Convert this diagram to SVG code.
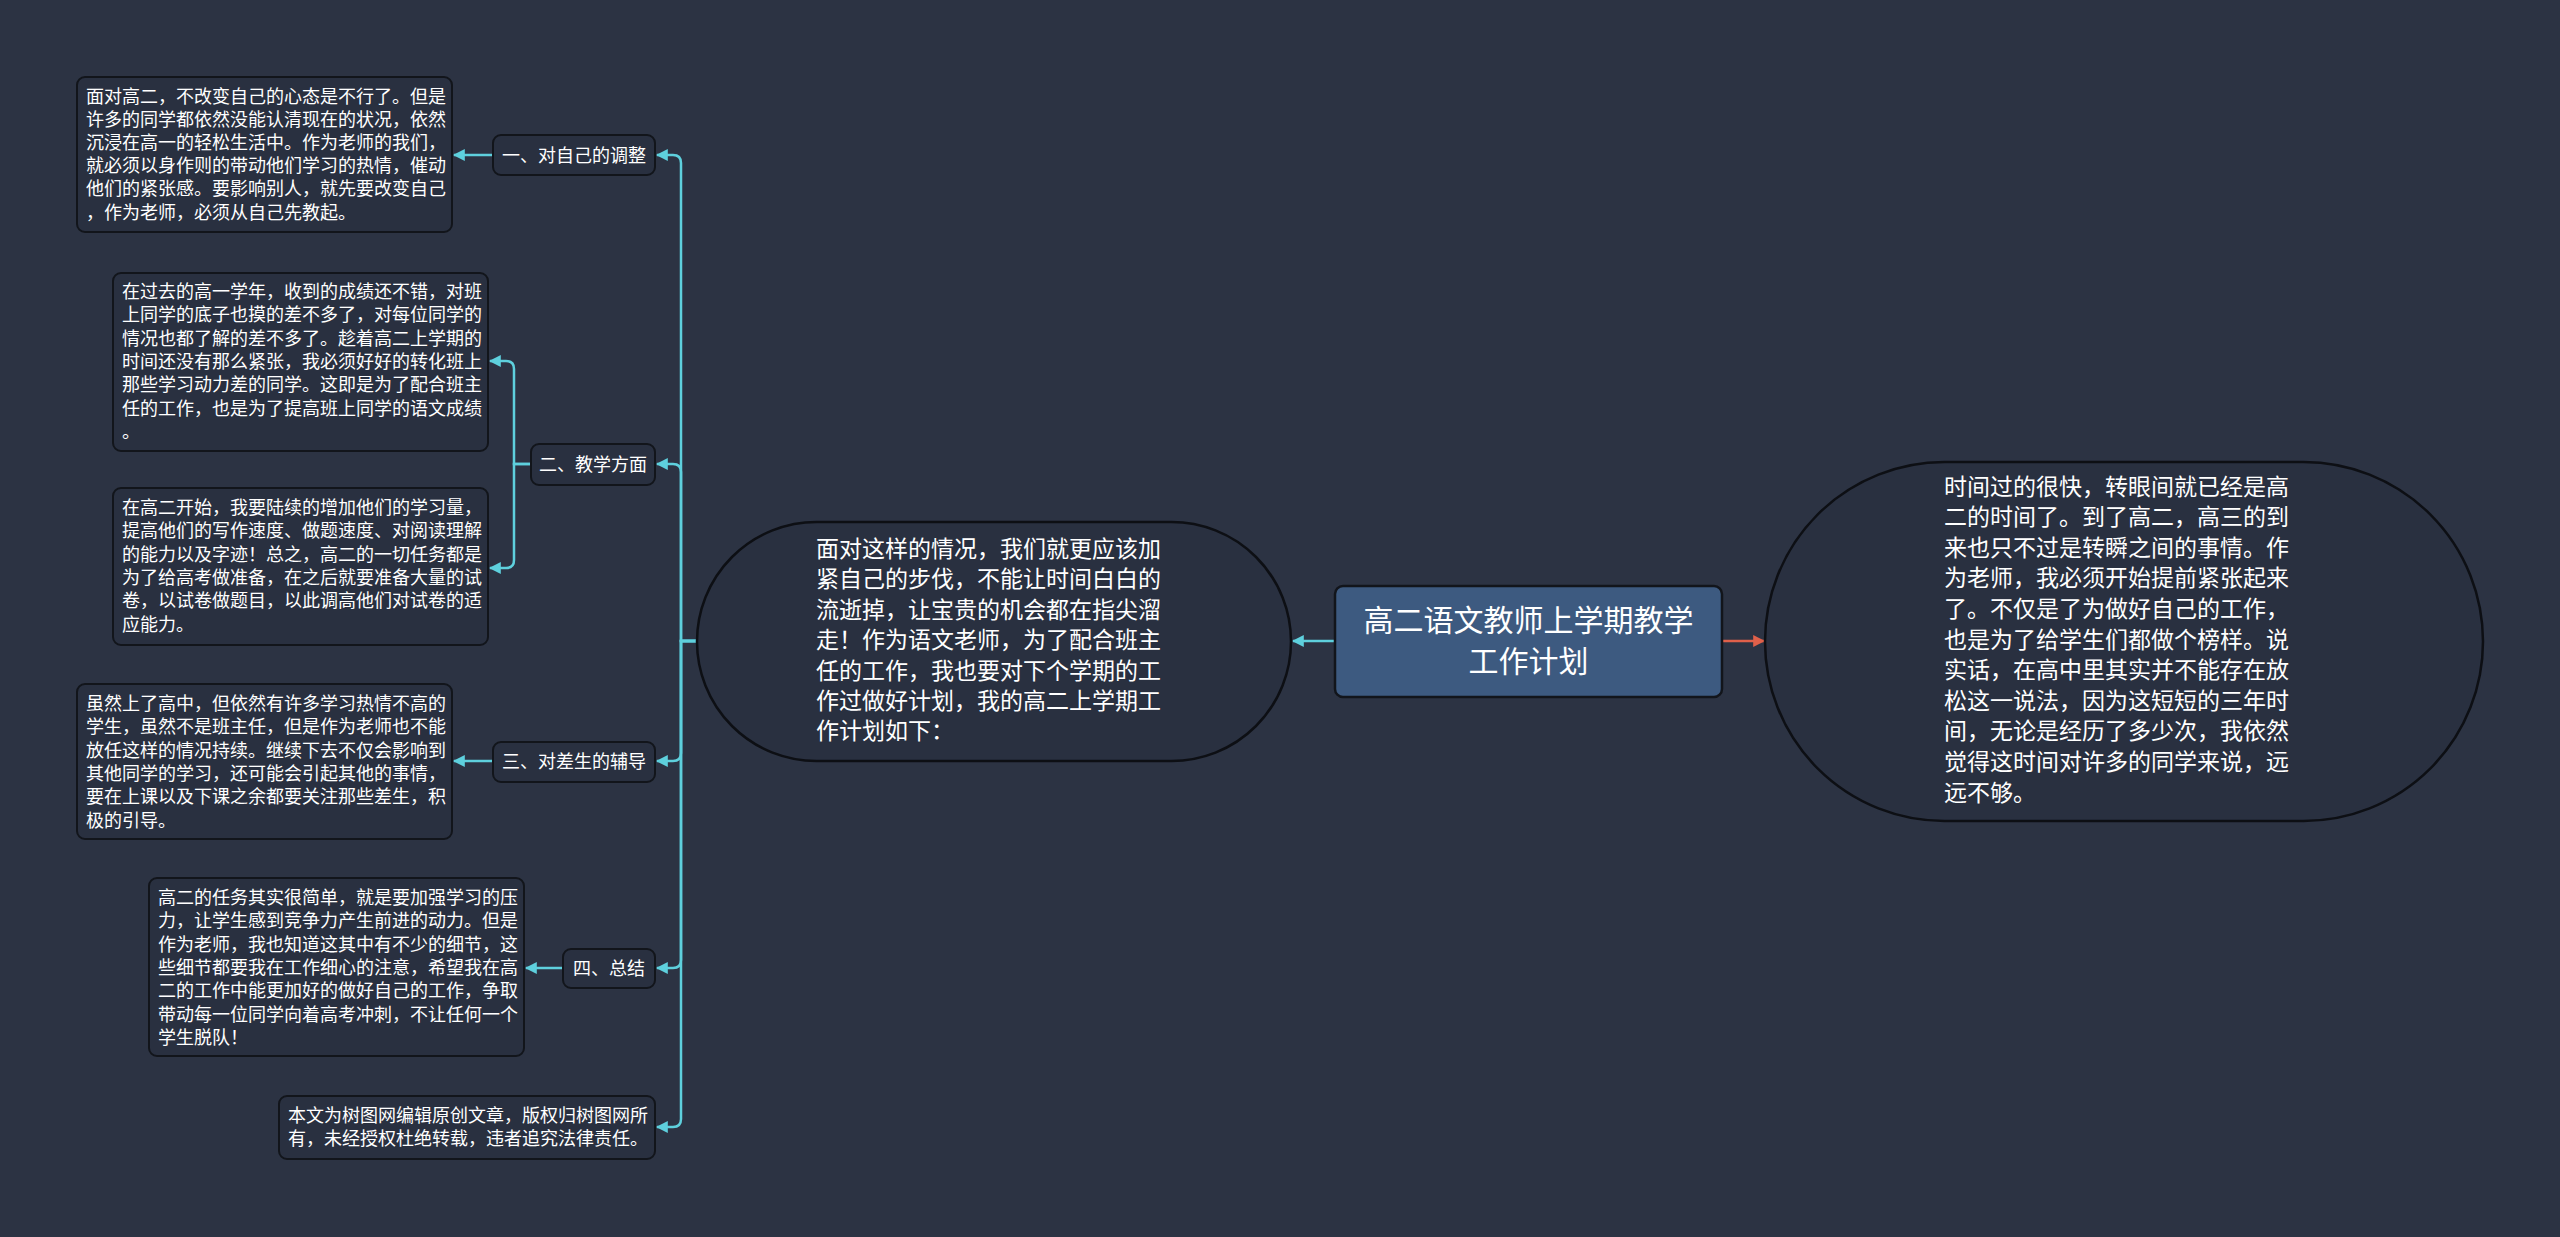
<svg xmlns="http://www.w3.org/2000/svg" width="2560" height="1237" viewBox="0 0 2560 1237">
<defs>
<style>
text{font-family:"Noto Sans CJK SC","Noto Sans",sans-serif;fill:#ffffff;}
.box{fill:#293040;stroke:#12151b;stroke-width:2;}
.oval{fill:#293040;stroke:#0d0f14;stroke-width:2.5;}
.root{fill:#3d5a80;stroke:#12151b;stroke-width:2.5;}
.t18{font-size:18px;}
.t23{font-size:23px;}
.t30{font-size:30px;}
.c{fill:none;stroke:#5ed0dd;stroke-width:2.5;}
.r{fill:none;stroke:#e0604a;stroke-width:2.5;}
</style>
<marker id="ac" viewBox="0 0 10 10" refX="9" refY="5" markerWidth="12" markerHeight="12" markerUnits="userSpaceOnUse" orient="auto"><path d="M0,0 L10,5 L0,10 z" fill="#5ed0dd"/></marker>
<marker id="ar" viewBox="0 0 10 10" refX="9" refY="5" markerWidth="12" markerHeight="12" markerUnits="userSpaceOnUse" orient="auto"><path d="M0,0 L10,5 L0,10 z" fill="#e0604a"/></marker>
</defs>
<rect width="2560" height="1237" fill="#2c3343"/>
<g id="connectors">
<path class="c" d="M1335,641 H1293" marker-end="url(#ac)"/>
<path class="r" d="M1722,641 H1764" marker-end="url(#ar)"/>
<path class="c" d="M697,641 H681 V163 Q681,155 673,155 H657" marker-end="url(#ac)"/>
<path class="c" d="M697,641 H681 V472 Q681,464 673,464 H657" marker-end="url(#ac)"/>
<path class="c" d="M697,641 H681 V753 Q681,761 673,761 H657" marker-end="url(#ac)"/>
<path class="c" d="M697,641 H681 V960 Q681,968 673,968 H657" marker-end="url(#ac)"/>
<path class="c" d="M697,641 H681 V1119 Q681,1127 673,1127 H657" marker-end="url(#ac)"/>
<path class="c" d="M493,155 H454" marker-end="url(#ac)"/>
<path class="c" d="M493,761 H454" marker-end="url(#ac)"/>
<path class="c" d="M563,968 H526" marker-end="url(#ac)"/>
<path class="c" d="M531,464 H514 V369 Q514,361 506,361 H490" marker-end="url(#ac)"/>
<path class="c" d="M531,464 H514 V560 Q514,568 506,568 H490" marker-end="url(#ac)"/>
</g>
<g id="root">
<rect class="root" x="1335" y="586" width="387" height="111" rx="8"/>
<text class="t30" text-anchor="middle" x="1528.5" y="631">高二语文教师上学期教学</text>
<text class="t30" text-anchor="middle" x="1528.5" y="672">工作计划</text>
</g>
<g id="intro-left">
<rect class="oval" x="697" y="522" width="594" height="239" rx="119.5"/>
<text class="t23" x="816" y="557">
<tspan x="816">面对这样的情况，我们就更应该加</tspan>
<tspan x="816" dy="30.4">紧自己的步伐，不能让时间白白的</tspan>
<tspan x="816" dy="30.4">流逝掉，让宝贵的机会都在指尖溜</tspan>
<tspan x="816" dy="30.4">走！作为语文老师，为了配合班主</tspan>
<tspan x="816" dy="30.4">任的工作，我也要对下个学期的工</tspan>
<tspan x="816" dy="30.4">作过做好计划，我的高二上学期工</tspan>
<tspan x="816" dy="30.4">作计划如下：</tspan>
</text>
</g>
<g id="intro-right">
<rect class="oval" x="1765" y="462" width="718" height="359" rx="179.5"/>
<text class="t23" x="1944" y="494.5">
<tspan x="1944">时间过的很快，转眼间就已经是高</tspan>
<tspan x="1944" dy="30.6">二的时间了。到了高二，高三的到</tspan>
<tspan x="1944" dy="30.6">来也只不过是转瞬之间的事情。作</tspan>
<tspan x="1944" dy="30.6">为老师，我必须开始提前紧张起来</tspan>
<tspan x="1944" dy="30.6">了。不仅是了为做好自己的工作，</tspan>
<tspan x="1944" dy="30.6">也是为了给学生们都做个榜样。说</tspan>
<tspan x="1944" dy="30.6">实话，在高中里其实并不能存在放</tspan>
<tspan x="1944" dy="30.6">松这一说法，因为这短短的三年时</tspan>
<tspan x="1944" dy="30.6">间，无论是经历了多少次，我依然</tspan>
<tspan x="1944" dy="30.6">觉得这时间对许多的同学来说，远</tspan>
<tspan x="1944" dy="30.6">远不够。</tspan>
</text>
</g>
<g id="label1">
<rect class="box" x="493" y="135" width="162" height="40" rx="8"/>
<text class="t18" text-anchor="middle" x="574" y="161.5">一、对自己的调整</text>
</g>
<g id="label2">
<rect class="box" x="531" y="444" width="124" height="41" rx="8"/>
<text class="t18" text-anchor="middle" x="593" y="470.5">二、教学方面</text>
</g>
<g id="label3">
<rect class="box" x="493" y="742" width="162" height="40" rx="8"/>
<text class="t18" text-anchor="middle" x="574" y="768">三、对差生的辅导</text>
</g>
<g id="label4">
<rect class="box" x="563" y="949" width="92" height="39" rx="8"/>
<text class="t18" text-anchor="middle" x="609" y="974.5">四、总结</text>
</g>
<g id="box1">
<rect class="box" x="77" y="77" width="375" height="155" rx="8"/>
<text class="t18" x="86" y="102.5">
<tspan x="86">面对高二，不改变自己的心态是不行了。但是</tspan>
<tspan x="86" dy="23.2">许多的同学都依然没能认清现在的状况，依然</tspan>
<tspan x="86" dy="23.2">沉浸在高一的轻松生活中。作为老师的我们，</tspan>
<tspan x="86" dy="23.2">就必须以身作则的带动他们学习的热情，催动</tspan>
<tspan x="86" dy="23.2">他们的紧张感。要影响别人，就先要改变自己</tspan>
<tspan x="86" dy="23.2">，作为老师，必须从自己先教起。</tspan>
</text>
</g>
<g id="box2">
<rect class="box" x="113" y="273" width="375" height="178" rx="8"/>
<text class="t18" x="122" y="298">
<tspan x="122">在过去的高一学年，收到的成绩还不错，对班</tspan>
<tspan x="122" dy="23.3">上同学的底子也摸的差不多了，对每位同学的</tspan>
<tspan x="122" dy="23.3">情况也都了解的差不多了。趁着高二上学期的</tspan>
<tspan x="122" dy="23.3">时间还没有那么紧张，我必须好好的转化班上</tspan>
<tspan x="122" dy="23.3">那些学习动力差的同学。这即是为了配合班主</tspan>
<tspan x="122" dy="23.3">任的工作，也是为了提高班上同学的语文成绩</tspan>
<tspan x="122" dy="23.3">。</tspan>
</text>
</g>
<g id="box3">
<rect class="box" x="113" y="488" width="375" height="157" rx="8"/>
<text class="t18" x="122" y="514">
<tspan x="122">在高二开始，我要陆续的增加他们的学习量，</tspan>
<tspan x="122" dy="23.3">提高他们的写作速度、做题速度、对阅读理解</tspan>
<tspan x="122" dy="23.3">的能力以及字迹！总之，高二的一切任务都是</tspan>
<tspan x="122" dy="23.3">为了给高考做准备，在之后就要准备大量的试</tspan>
<tspan x="122" dy="23.3">卷，以试卷做题目，以此调高他们对试卷的适</tspan>
<tspan x="122" dy="23.3">应能力。</tspan>
</text>
</g>
<g id="box4">
<rect class="box" x="77" y="684" width="375" height="155" rx="8"/>
<text class="t18" x="86" y="710">
<tspan x="86">虽然上了高中，但依然有许多学习热情不高的</tspan>
<tspan x="86" dy="23.3">学生，虽然不是班主任，但是作为老师也不能</tspan>
<tspan x="86" dy="23.3">放任这样的情况持续。继续下去不仅会影响到</tspan>
<tspan x="86" dy="23.3">其他同学的学习，还可能会引起其他的事情，</tspan>
<tspan x="86" dy="23.3">要在上课以及下课之余都要关注那些差生，积</tspan>
<tspan x="86" dy="23.3">极的引导。</tspan>
</text>
</g>
<g id="box5">
<rect class="box" x="149" y="878" width="375" height="178" rx="8"/>
<text class="t18" x="158" y="904">
<tspan x="158">高二的任务其实很简单，就是要加强学习的压</tspan>
<tspan x="158" dy="23.3">力，让学生感到竞争力产生前进的动力。但是</tspan>
<tspan x="158" dy="23.3">作为老师，我也知道这其中有不少的细节，这</tspan>
<tspan x="158" dy="23.3">些细节都要我在工作细心的注意，希望我在高</tspan>
<tspan x="158" dy="23.3">二的工作中能更加好的做好自己的工作，争取</tspan>
<tspan x="158" dy="23.3">带动每一位同学向着高考冲刺，不让任何一个</tspan>
<tspan x="158" dy="23.3">学生脱队！</tspan>
</text>
</g>
<g id="box6">
<rect class="box" x="279" y="1096" width="376" height="63" rx="8"/>
<text class="t18" x="288" y="1122">
<tspan x="288">本文为树图网编辑原创文章，版权归树图网所</tspan>
<tspan x="288" dy="23.3">有，未经授权杜绝转载，违者追究法律责任。</tspan>
</text>
</g>
</svg>
